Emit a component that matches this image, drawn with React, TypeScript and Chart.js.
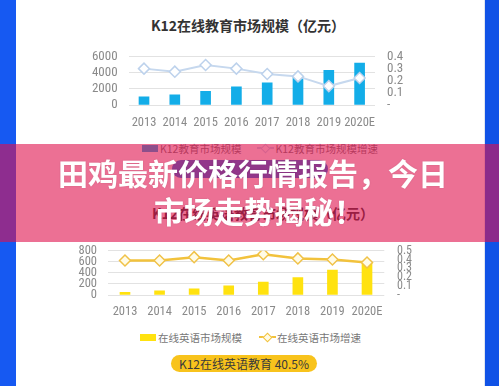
import React, { useEffect, useRef } from 'react';
import { Chart, registerables } from 'chart.js';

Chart.register(...registerables);

const years = ['2013', '2014', '2015', '2016', '2017', '2018', '2019', '2020E'];
const k12Size = [1000, 1250, 1700, 2250, 2750, 3500, 4300, 5200];
const k12Growth = [0.3, 0.275, 0.33, 0.3, 0.256, 0.236, 0.156, 0.223];
const englishSize = [50, 75, 110, 165, 235, 315, 450, 590];
const englishGrowth = [0.39, 0.39, 0.427, 0.39, 0.46, 0.413, 0.4, 0.367];

const title1 = 'K12在线教育市场规模（亿元）';
const title2 = 'K12在线英语教育市场规模（亿元）';
const legend1 = ['K12教育市场规模', 'K12教育市场规模增速'];
const legend2 = ['在线英语市场规模', '在线英语市场增速'];
const badge2 = 'K12在线英语教育 40.5%';
const bannerLine1 = '田鸡最新价格行情报告，今日';
const bannerLine2 = '市场走势揭秘！';

const TICK_FONT = "'Roboto Condensed', 'Liberation Sans Narrow', 'Liberation Sans', sans-serif";
const CJK = "'Noto Sans CJK SC', sans-serif";

type ComboProps = {
  sizes: number[];
  growth: number[];
  barColor: string;
  lineColor: string;
  lineWidth: number;
  pointFill: string;
  pointBorder: string;
  leftMax: number;
  leftStep: number;
  rightMax: number;
  width: number;
  height: number;
  leftW: number;
  rightW: number;
  padTop: number;
  xH: number;
  leftPad: number;
  rightPad: number;
  xPad: number;
  xFont: number;
  leftFont: number;
  rightFont: number;
  style: React.CSSProperties;
};

function Combo(p: ComboProps) {
  const ref = useRef<HTMLCanvasElement>(null);
  useEffect(() => {
    if (!ref.current) return;
    const chart = new Chart(ref.current, {
      type: 'bar',
      data: {
        labels: years,
        datasets: [
          {
            type: 'line',
            data: p.growth,
            yAxisID: 'y1',
            borderColor: p.lineColor,
            borderWidth: p.lineWidth,
            pointStyle: 'rectRot',
            pointRadius: 5.5,
            pointBackgroundColor: p.pointFill,
            pointBorderColor: p.pointBorder,
            pointBorderWidth: 1.5,
            tension: 0,
            order: 0,
          } as any,
          {
            type: 'bar',
            data: p.sizes,
            yAxisID: 'y',
            backgroundColor: p.barColor,
            barThickness: 10,
            order: 1,
          },
        ],
      },
      options: {
        responsive: false,
        animation: false,
        devicePixelRatio: 1,
        layout: { padding: { top: p.padTop, left: 0, right: 0, bottom: 0 } },
        plugins: { legend: { display: false }, tooltip: { enabled: false } },
        scales: {
          x: {
            offset: true,
            grid: { display: false, drawTicks: false },
            border: { display: false },
            ticks: { padding: p.xPad, color: '#8a8a8a', font: { family: TICK_FONT, size: p.xFont }, maxRotation: 0, autoSkip: false },
            afterFit: (s: any) => { s.height = p.xH; },
          },
          y: {
            position: 'left',
            min: 0,
            max: p.leftMax,
            grid: { color: '#e2e2e2', lineWidth: 1, drawTicks: false },
            border: { display: false },
            ticks: {
              stepSize: p.leftStep,
              padding: p.leftPad,
              color: '#8a8a8a',
              autoSkip: false,
              font: { family: TICK_FONT, size: p.leftFont, lineHeight: 1 },
              callback: (v: any) => String(v),
            },
            afterFit: (s: any) => { s.width = p.leftW; },
          },
          y1: {
            position: 'right',
            min: 0,
            max: p.rightMax,
            grid: { display: false, drawTicks: false },
            border: { display: false },
            ticks: {
              stepSize: 0.1,
              padding: p.rightPad,
              color: '#8a8a8a',
              autoSkip: false,
              font: { family: TICK_FONT, size: p.rightFont, lineHeight: 1 },
              callback: (v: any) => (Number(v) === 0 ? '-' : Number(v).toFixed(1)),
            },
            afterFit: (s: any) => { s.width = p.rightW; },
          },
        },
      },
    });
    return () => chart.destroy();
  }, []);
  return (
    <canvas
      ref={ref}
      width={p.width}
      height={p.height}
      style={{ position: 'absolute', width: p.width, height: p.height, ...p.style }}
    />
  );
}

function LineMarker({ color, fill }: { color: string; fill: string }) {
  return (
    <span style={{ position: 'relative', display: 'inline-block', width: 17, height: 10 }}>
      <span style={{ position: 'absolute', left: 0, top: 4, width: 17, height: 2, background: color }} />
      <span
        style={{
          position: 'absolute',
          left: 5,
          top: 2,
          width: 5,
          height: 5,
          background: fill,
          border: `1px solid ${color}`,
          transform: 'rotate(45deg)',
        }}
      />
    </span>
  );
}

function Legend({ x, y, labels, barColor, lineColor, pointFill, gap }: any) {
  return (
    <div
      style={{
        position: 'absolute',
        left: x,
        top: y - 8,
        height: 16,
        display: 'flex',
        alignItems: 'center',
        font: `10.5px ${CJK}`,
        color: '#777',
        whiteSpace: 'nowrap',
      }}
    >
      <span style={{ display: 'inline-block', width: 16, height: 7, background: barColor }} />
      <span style={{ marginLeft: 2 }}>{labels[0]}</span>
      <span style={{ marginLeft: gap }}>
        <LineMarker color={lineColor} fill={pointFill} />
      </span>
      <span style={{ marginLeft: 1 }}>{labels[1]}</span>
    </div>
  );
}

export default function App() {
  return (
    <div
      style={{
        position: 'fixed',
        left: 0,
        top: 0,
        width: 499,
        height: 386,
        overflow: 'hidden',
        background: '#ffffff',
      }}
    >
      <div style={{ position: 'absolute', left: 0, top: 0, width: 16, height: 386, background: '#1659f2' }} />
      <div style={{ position: 'absolute', left: 485, top: 0, width: 14, height: 386, background: '#1052e6' }} />
      <div style={{ position: 'absolute', left: 484, top: 0, width: 1, height: 386, background: '#dfe5f0' }} />

      <div
        style={{
          position: 'absolute',
          left: 151,
          top: 14,
          font: `bold 14px ${CJK}`,
          lineHeight: '22px',
          color: '#333',
          whiteSpace: 'nowrap',
        }}
      >
        {title1}
      </div>

      <Combo
        sizes={k12Size}
        growth={k12Growth}
        barColor="#13ade8"
        lineColor="#c6d8ee"
        lineWidth={2}
        pointFill="#ffffff"
        pointBorder="#bdd2ec"
        leftMax={6000}
        leftStep={2000}
        rightMax={0.4}
        width={380}
        height={100}
        leftW={68.6}
        rightW={65}
        padTop={15.3}
        xH={33}
        leftPad={11}
        rightPad={12}
        xPad={10}
        xFont={12.5}
        leftFont={13}
        rightFont={13}
        style={{ left: 60, top: 38 }}
      />

      <Legend x={142} y={148} labels={legend1} barColor="#13ade8" lineColor="#c6d8ee" pointFill="#ffffff" gap={16} />

      <div
        style={{
          position: 'absolute',
          left: 172,
          top: 160,
          width: 156,
          height: 18,
          borderRadius: 9,
          background: '#1f72e6',
        }}
      />

      <div
        style={{
          position: 'absolute',
          left: 152,
          top: 202,
          font: `bold 14px ${CJK}`,
          lineHeight: '22px',
          color: '#333',
          whiteSpace: 'nowrap',
        }}
      >
        {title2}
      </div>

      <Combo
        sizes={englishSize}
        growth={englishGrowth}
        barColor="#ffe20f"
        lineColor="#f2c23c"
        lineWidth={2.5}
        pointFill="#fffbe6"
        pointBorder="#f0c248"
        leftMax={800}
        leftStep={200}
        rightMax={0.5}
        width={400}
        height={95}
        leftW={57.7}
        rightW={65.7}
        padTop={12.5}
        xH={32}
        leftPad={10.7}
        rightPad={12.7}
        xPad={9.5}
        xFont={12.5}
        leftFont={12.5}
        rightFont={12}
        style={{ left: 50, top: 232 }}
      />

      <Legend x={140} y={337} labels={legend2} barColor="#ffe20f" lineColor="#f2c23c" pointFill="#fffbe6" gap={17} />

      <div
        style={{
          position: 'absolute',
          left: 171,
          top: 355,
          width: 146,
          height: 17,
          borderRadius: 9,
          background: '#f8c31c',
          font: `12px ${CJK}`,
          lineHeight: '17px',
          color: '#3a3a3a',
          textAlign: 'center',
          whiteSpace: 'nowrap',
        }}
      >
        {badge2}
      </div>

      <div
        style={{
          position: 'absolute',
          left: 0,
          top: 144,
          width: 499,
          height: 98,
          background: 'rgba(223,17,77,0.6)',
        }}
      />

      <div
        style={{
          position: 'absolute',
          left: 58,
          top: 154,
          font: `bold 30px ${CJK}`,
          lineHeight: '37.5px',
          color: '#ffffff',
          whiteSpace: 'nowrap',
          textShadow: '0 0 2px rgba(0,0,0,0.12)',
        }}
      >
        {bannerLine1}
      </div>
      <div
        style={{
          position: 'absolute',
          left: 154,
          top: 191.5,
          font: `bold 30px ${CJK}`,
          lineHeight: '37.5px',
          color: '#ffffff',
          whiteSpace: 'nowrap',
          textShadow: '0 0 2px rgba(0,0,0,0.12)',
        }}
      >
        {bannerLine2}
      </div>
    </div>
  );
}
